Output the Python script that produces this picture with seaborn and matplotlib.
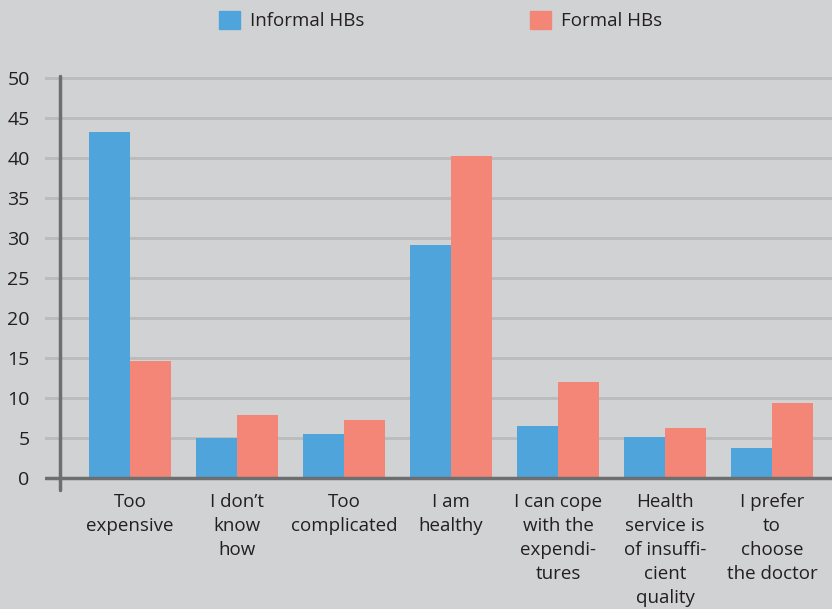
"""
Reasons for not using health services: informal vs formal HBs
"""

import pandas as pd
import matplotlib
matplotlib.use("Agg")
import matplotlib.pyplot as plt
import seaborn as sns
from matplotlib.patches import Patch

# data
reasons = [
    "Too\nexpensive",
    "I don\u2019t\nknow\nhow",
    "Too\ncomplicated",
    "I am\nhealthy",
    "I can cope\nwith the\nexpendi-\ntures",
    "Health\nservice is\nof insuffi-\ncient\nquality",
    "I prefer\nto\nchoose\nthe doctor",
]
series = ["Informal HBs", "Formal HBs"]
informal = [43.2, 5.0, 5.5, 29.1, 6.5, 5.1, 3.7]
formal = [14.6, 7.9, 7.2, 40.2, 12.0, 6.2, 9.4]
yticks = [0, 5, 10, 15, 20, 25, 30, 35, 40, 45, 50]

BG = "#d1d2d4"
BLUE = "#4fa5db"
RED = "#f48677"
GRID = "#babbbd"
AXIS = "#6d6e70"
TEXT = "#231f20"


def main():
    sns.set_style("white")
    plt.rcParams["font.family"] = ["Open Sans", "DejaVu Sans"]

    df = pd.DataFrame({
        "reason": reasons * 2,
        "group": [series[0]] * len(reasons) + [series[1]] * len(reasons),
        "value": informal + formal,
    })

    fig = plt.figure(figsize=(8.32, 6.09), dpi=100, facecolor=BG)
    ax = fig.add_axes([45 / 832, 119 / 609, 787 / 832, 416 / 609], facecolor=BG)

    sns.barplot(data=df, x="reason", y="value", hue="group",
                palette=[BLUE, RED], width=0.77, saturation=1,
                linewidth=0, legend=False, ax=ax, zorder=3)

    ax.set_xlim(-0.794, 6.56)
    ax.set_ylim(-1.5, 50.5)

    for y in yticks[1:]:
        ax.axhline(y, color=GRID, lw=2.0, zorder=1)
    ax.axhline(0, color=AXIS, lw=2.5, zorder=4)
    ax.plot([-0.654, -0.654], [-1.5, 50.2], color=AXIS, lw=2.5,
            zorder=4, clip_on=False)

    for s in ax.spines.values():
        s.set_visible(False)

    ax.set_yticks(yticks)
    ax.set_yticklabels([str(v) for v in yticks])
    ax.tick_params(axis="y", length=0, pad=11, labelsize=14, labelcolor=TEXT)
    ax.tick_params(axis="x", length=0, pad=2.5, labelsize=13.5, labelcolor=TEXT)
    for lab in ax.get_xticklabels():
        lab.set_linespacing(1.42)
        lab.set_ha("center")
    ax.set_xlabel("")
    ax.set_ylabel("")

    handles = [Patch(color=BLUE, label=series[0]), Patch(color=RED, label=series[1])]
    fig.legend(handles=handles, loc="upper left", ncol=2,
               bbox_to_anchor=(219 / 832, 1 - 11 / 609), frameon=False,
               fontsize=13.5, handlelength=1.1, handleheight=1.1,
               handletextpad=0.55, columnspacing=8.85, borderpad=0,
               borderaxespad=0, labelcolor=TEXT)

    fig.savefig("out.png", dpi=100, facecolor=BG)
    plt.close(fig)


if __name__ == "__main__":
    main()
